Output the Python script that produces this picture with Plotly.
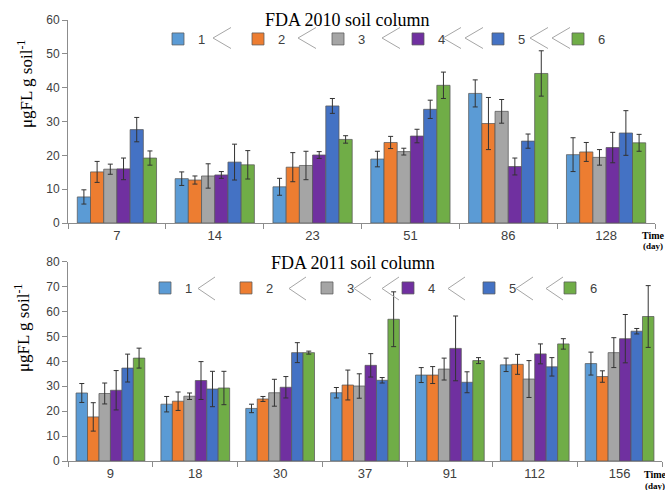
import plotly.graph_objects as go

W, H = 665, 490

series_names = ["1", "2", "3", "4", "5", "6"]
colors = ["#5B9BD5", "#ED7D31", "#A5A5A5", "#7030A0", "#4472C4", "#70AD47"]

days_2010 = ["7", "14", "23", "51", "86", "128"]
m2010_1 = [7.7, 13.1, 10.7, 18.9, 38.3, 20.2]
m2010_2 = [15.1, 12.7, 16.5, 23.8, 29.4, 21.0]
m2010_3 = [15.9, 13.9, 17.0, 21.1, 33.0, 19.4]
m2010_4 = [16.0, 14.2, 20.1, 25.7, 16.7, 22.3]
m2010_5 = [27.6, 18.0, 34.6, 33.6, 24.2, 26.6]
m2010_6 = [19.2, 17.2, 24.7, 40.7, 44.2, 23.7]
e2010_1 = [2.1, 2.0, 2.5, 2.3, 4.0, 5.0]
e2010_2 = [3.1, 1.2, 4.3, 1.8, 7.7, 2.8]
e2010_3 = [1.5, 3.6, 4.2, 1.0, 3.5, 2.3]
e2010_4 = [3.2, 1.0, 1.0, 2.0, 2.5, 4.5]
e2010_5 = [3.6, 5.3, 2.2, 2.7, 2.1, 6.6]
e2010_6 = [2.1, 4.2, 1.1, 3.9, 6.7, 2.5]

days_2011 = ["9", "18", "30", "37", "91", "112", "156"]
m2011_1 = [27.3, 22.8, 21.1, 27.4, 34.5, 38.6, 39.1]
m2011_2 = [17.7, 24.0, 24.9, 30.5, 34.5, 38.8, 33.9]
m2011_3 = [27.1, 26.0, 27.4, 30.1, 36.9, 32.9, 43.5]
m2011_4 = [28.4, 32.3, 29.6, 38.4, 45.2, 43.0, 49.1]
m2011_5 = [37.3, 28.9, 43.5, 32.4, 31.6, 37.8, 52.1]
m2011_6 = [41.3, 29.3, 43.5, 56.9, 40.3, 47.0, 58.0]
e2011_1 = [3.8, 3.1, 1.7, 2.1, 3.0, 2.7, 4.6]
e2011_2 = [5.7, 3.7, 1.0, 6.0, 3.4, 4.0, 2.3]
e2011_3 = [4.2, 1.3, 5.4, 4.9, 4.4, 7.4, 6.0]
e2011_4 = [7.9, 7.6, 4.3, 4.7, 13.0, 4.0, 9.7]
e2011_5 = [5.6, 7.1, 4.0, 1.1, 4.2, 3.7, 1.1]
e2011_6 = [4.0, 6.7, 0.6, 11.0, 1.2, 2.1, 12.4]

means_2010 = [m2010_1, m2010_2, m2010_3, m2010_4, m2010_5, m2010_6]
errs_2010 = [e2010_1, e2010_2, e2010_3, e2010_4, e2010_5, e2010_6]
means_2011 = [m2011_1, m2011_2, m2011_3, m2011_4, m2011_5, m2011_6]
errs_2011 = [e2011_1, e2011_2, e2011_3, e2011_4, e2011_5, e2011_6]


def px_x(x):
    return x / W


def px_y(y):
    return 1 - y / H


fig = go.Figure()

for i, name in enumerate(series_names):
    fig.add_trace(go.Bar(
        x=days_2010, y=means_2010[i], name=name, xaxis="x", yaxis="y",
        marker=dict(color=colors[i], line=dict(color="rgba(90,90,90,0.75)", width=1)),
        error_y=dict(type="data", array=errs_2010[i], color="#333333", thickness=1, width=2.5),
        legend="legend",
    ))
for i, name in enumerate(series_names):
    fig.add_trace(go.Bar(
        x=days_2011, y=means_2011[i], name=name, xaxis="x2", yaxis="y2",
        marker=dict(color=colors[i], line=dict(color="rgba(90,90,90,0.75)", width=1)),
        error_y=dict(type="data", array=errs_2011[i], color="#333333", thickness=1, width=2.5),
        legend="legend2",
    ))

axis_common = dict(showline=True, linecolor="#8c8c8c", linewidth=1, ticks="outside",
                   tickcolor="#8c8c8c", ticklen=5, showgrid=False, zeroline=False,
                   automargin=False, fixedrange=True)
yfont = dict(family="Liberation Sans", size=12, color="#404040")
xfont = dict(family="Liberation Sans", size=13, color="#404040")

fig.update_layout(
    template="none",
    width=W, height=H,
    margin=dict(l=0, r=0, t=0, b=0),
    paper_bgcolor="white", plot_bgcolor="white",
    barmode="group", bargap=0.19, bargroupgap=0,
    xaxis=dict(domain=[px_x(68), px_x(655)], anchor="y", type="category",
               tickson="boundaries", tickfont=xfont, **axis_common),
    yaxis=dict(domain=[px_y(223), px_y(20)], anchor="x", range=[0, 60], dtick=10,
               tickfont=yfont, **axis_common),
    xaxis2=dict(domain=[px_x(68), px_x(662)], anchor="y2", type="category",
                tickson="boundaries", tickfont=xfont, **axis_common),
    yaxis2=dict(domain=[px_y(461), px_y(261.7)], anchor="x2", range=[0, 80], dtick=10,
                tickfont=yfont, **axis_common),
    legend=dict(orientation="h", x=px_x(158), y=px_y(39), xanchor="left", yanchor="middle",
                entrywidth=35, entrywidthmode="pixels", bgcolor="rgba(0,0,0,0)",
                font=dict(family="Liberation Sans", size=13, color="#404040"),
                traceorder="normal", itemclick=False),
    legend2=dict(orientation="h", x=px_x(145), y=px_y(288), xanchor="left", yanchor="middle",
                 entrywidth=36, entrywidthmode="pixels", bgcolor="rgba(0,0,0,0)",
                 font=dict(family="Liberation Sans", size=13, color="#404040"),
                 traceorder="normal", itemclick=False),
    showlegend=True,
)

serif = "Liberation Serif"
ann = [
    dict(text="FDA 2010 soil column", x=px_x(347), y=px_y(20), font=dict(family=serif, size=18, color="black")),
    dict(text="FDA 2011 soil column", x=px_x(353), y=px_y(263), font=dict(family=serif, size=18, color="black")),
    dict(text="μgFL g soil<sup>-1</sup>", x=px_x(25), y=px_y(84), textangle=-90,
         font=dict(family=serif, size=17, color="black")),
    dict(text="μgFL g soil<sup>-1</sup>", x=px_x(22), y=px_y(328), textangle=-90,
         font=dict(family=serif, size=17, color="black")),
    dict(text="<b>Time</b>", x=px_x(653), y=px_y(235), font=dict(family=serif, size=10, color="black")),
    dict(text="<b>(day)</b>", x=px_x(653), y=px_y(246), font=dict(family=serif, size=9, color="black")),
    dict(text="<b>Time</b>", x=px_x(655), y=px_y(474), font=dict(family=serif, size=10, color="black")),
    dict(text="<b>(day)</b>", x=px_x(655), y=px_y(485.5), font=dict(family=serif, size=9, color="black")),
]
for a in ann:
    a.update(xref="paper", yref="paper", showarrow=False, xanchor="center", yanchor="middle")
fig.update_layout(annotations=ann)

# decorative "<" chevrons between legend entries
def chevron(xl, yc, w, hh):
    return dict(type="path", xref="paper", yref="paper",
                path=f"M {px_x(xl + w)},{px_y(yc - hh)} L {px_x(xl)},{px_y(yc)} L {px_x(xl + w)},{px_y(yc + hh)}",
                line=dict(color="#a6a6a6", width=1))

shapes = []
for xl in [213, 298, 382, 443, 465, 530, 552]:
    shapes.append(chevron(xl, 38, 18, 10.5))
for xl in [198, 289, 354, 382, 448, 516, 546]:
    shapes.append(chevron(xl, 288.5, 17, 11.5))
fig.update_layout(shapes=shapes)

fig.write_html("out.html")
